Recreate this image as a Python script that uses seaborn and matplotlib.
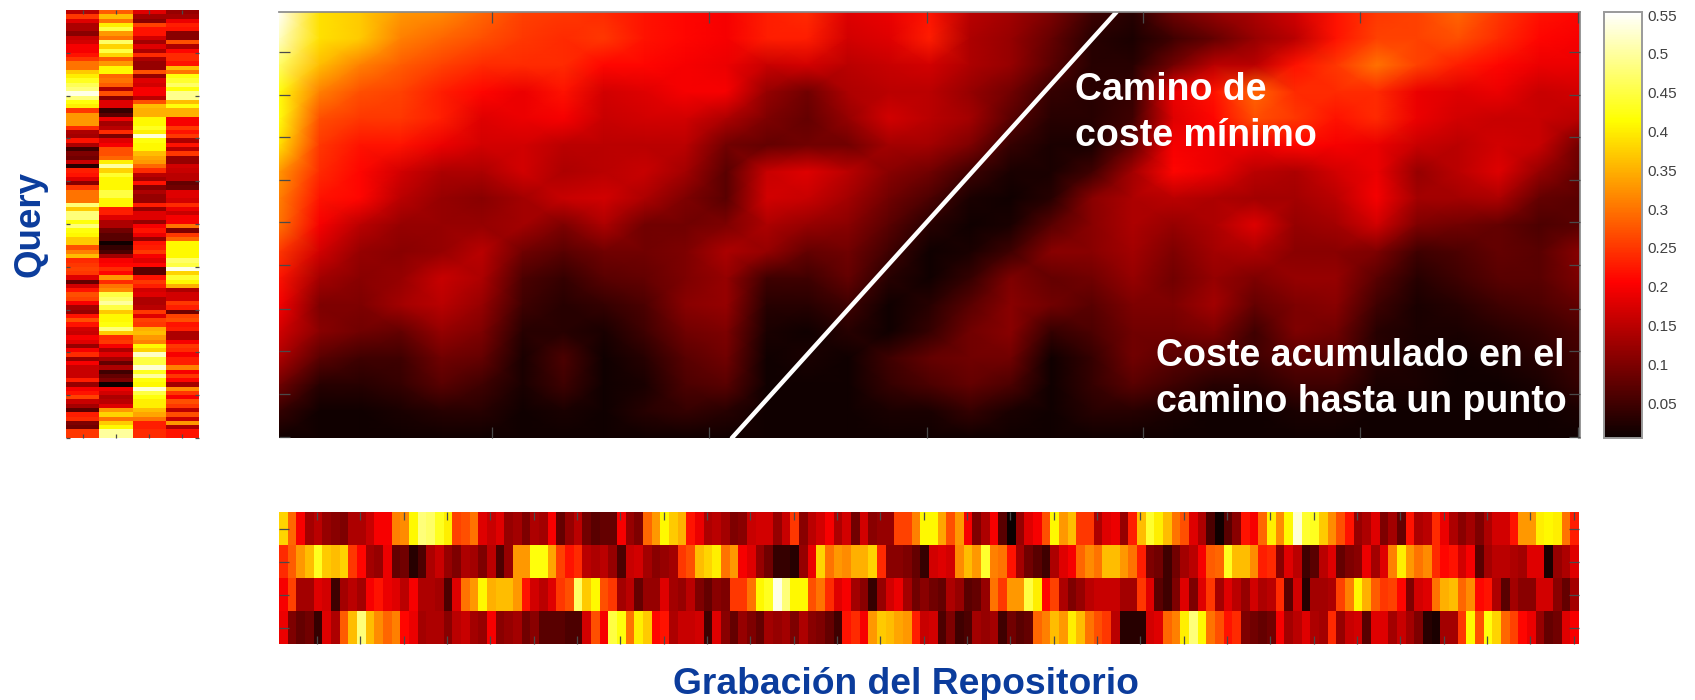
import matplotlib
matplotlib.use("Agg")
import matplotlib.pyplot as plt
import numpy as np
import seaborn as sns

# coste acumulado, una fila cada ~27 px del original (arriba -> abajo)
cost_rows = [
    [.55,.39,.37,.33,.32,.29,.26,.25,.24,.22,.21,.20,.23,.24,.18,.19,.22,.15,.13,.10,.05,.03,.09,.12,.14,.17,.22,.25,.26,.29,.25,.22,.21],
    [.52,.39,.37,.31,.29,.27,.25,.24,.25,.22,.21,.20,.23,.23,.17,.18,.23,.14,.12,.08,.03,.02,.05,.08,.12,.15,.22,.26,.26,.27,.24,.21,.20],
    [.47,.36,.31,.28,.26,.24,.24,.24,.21,.21,.20,.19,.16,.17,.15,.16,.17,.14,.12,.07,.03,.03,.09,.15,.15,.22,.25,.30,.26,.23,.21,.19,.19],
    [.42,.31,.27,.26,.23,.21,.19,.22,.17,.18,.20,.20,.12,.09,.14,.15,.15,.12,.09,.04,.03,.04,.19,.22,.29,.24,.24,.24,.19,.18,.19,.16,.17],
    [.42,.27,.25,.25,.23,.18,.19,.20,.16,.17,.17,.14,.10,.08,.12,.17,.15,.13,.07,.03,.03,.05,.18,.21,.27,.25,.22,.24,.19,.17,.16,.16,.15],
    [.39,.25,.22,.22,.19,.17,.17,.15,.15,.15,.15,.09,.08,.09,.09,.13,.13,.10,.04,.02,.02,.08,.20,.19,.19,.21,.20,.19,.16,.15,.17,.16,.09],
    [.33,.24,.21,.17,.14,.14,.17,.14,.15,.16,.13,.07,.16,.18,.15,.11,.09,.05,.02,.02,.05,.13,.21,.19,.15,.14,.17,.19,.12,.15,.18,.12,.08],
    [.31,.22,.21,.15,.12,.11,.13,.16,.17,.14,.10,.07,.17,.16,.13,.09,.06,.02,.01,.03,.11,.14,.15,.14,.13,.13,.15,.20,.13,.13,.14,.08,.07],
    [.30,.20,.15,.12,.12,.12,.13,.10,.14,.09,.09,.10,.14,.12,.11,.07,.03,.01,.02,.07,.11,.14,.12,.14,.18,.12,.13,.17,.10,.09,.08,.06,.07],
    [.25,.17,.12,.11,.12,.15,.09,.07,.09,.09,.10,.14,.12,.08,.09,.05,.01,.02,.05,.11,.11,.13,.10,.13,.14,.11,.11,.10,.05,.06,.08,.07,.11],
    [.22,.13,.11,.12,.16,.14,.06,.04,.07,.08,.10,.12,.05,.05,.08,.03,.01,.04,.10,.08,.09,.12,.09,.12,.10,.12,.12,.07,.03,.05,.07,.07,.10],
    [.20,.10,.10,.13,.15,.12,.05,.03,.04,.06,.11,.12,.03,.03,.05,.01,.03,.07,.11,.09,.07,.10,.10,.13,.08,.10,.11,.05,.02,.03,.05,.06,.08],
    [.17,.11,.09,.08,.12,.10,.03,.03,.02,.05,.09,.10,.02,.01,.03,.01,.04,.09,.11,.04,.06,.09,.09,.10,.05,.10,.09,.03,.02,.02,.03,.04,.06],
    [.14,.07,.05,.05,.09,.08,.02,.06,.01,.03,.07,.09,.01,.02,.01,.05,.08,.09,.09,.01,.04,.09,.07,.06,.05,.07,.07,.03,.02,.01,.02,.03,.05],
    [.09,.03,.03,.04,.07,.05,.02,.05,.01,.02,.06,.07,.01,.01,.01,.04,.06,.08,.06,.01,.04,.07,.05,.03,.03,.05,.05,.02,.02,.01,.01,.02,.04],
    [.04,.01,.01,.02,.03,.03,.01,.02,.01,.03,.04,.03,.01,.01,.01,.02,.02,.04,.02,.01,.03,.03,.02,.01,.01,.02,.02,.01,.01,.01,.01,.01,.02],
    [.01,.01,.01,.01,.01,.01,.01,.01,.01,.01,.01,.01,.01,.01,.01,.01,.01,.01,.01,.01,.01,.01,.01,.01,.01,.01,.01,.01,.01,.01,.01,.01,.01],
]

# query: 4 columnas de 100 filas
query_a = [.15,.25,.18,.14,.14,.11,.16,.17,.20,.20,.22,.25,.30,.30,.37,.40,.43,.46,.48,.54,.48,.42,.40,.25,.33,.33,.33,.24,.14,.13,.22,.14,.05,.10,.09,.16,.03,.23,.22,.18,.11,.25,.30,.30,.30,.48,.37,.48,.48,.42,
           .48,.42,.41,.37,.37,.27,.31,.36,.24,.25,.26,.25,.18,.08,.17,.22,.27,.26,.20,.13,.12,.22,.27,.22,.17,.16,.20,.18,.12,.20,.24,.12,.20,.16,.16,.16,.23,.12,.20,.22,.26,.16,.13,.07,.23,.24,.10,.09,.25,.25]
query_b = [.28,.36,.30,.40,.45,.33,.30,.47,.38,.45,.38,.28,.33,.41,.41,.29,.30,.28,.14,.27,.11,.18,.18,.04,.07,.19,.13,.15,.24,.10,.18,.20,.27,.27,.29,.40,.50,.38,.44,.41,.41,.41,.45,.45,.41,.41,.23,.23,.18,.14,
           .14,.09,.07,.07,.01,.04,.06,.13,.20,.21,.24,.21,.33,.24,.30,.32,.45,.47,.50,.45,.37,.41,.41,.42,.48,.37,.24,.25,.20,.14,.18,.13,.08,.14,.05,.08,.10,.005,.19,.17,.14,.15,.18,.33,.38,.30,.37,.41,.50,.50]
query_c = [.18,.13,.11,.26,.22,.22,.17,.13,.18,.14,.24,.14,.12,.12,.27,.12,.18,.17,.20,.20,.15,.27,.36,.35,.35,.41,.41,.43,.40,.53,.42,.41,.41,.36,.34,.33,.29,.24,.15,.13,.22,.11,.14,.12,.12,.23,.12,.18,.18,.12,
           .20,.22,.19,.12,.22,.23,.25,.20,.18,.21,.07,.07,.22,.25,.23,.17,.18,.14,.14,.15,.25,.18,.26,.25,.35,.36,.33,.31,.41,.38,.52,.45,.45,.53,.43,.50,.42,.41,.53,.45,.42,.40,.40,.36,.34,.30,.23,.23,.24,.24]
query_d = [.12,.13,.19,.23,.22,.11,.11,.27,.14,.21,.24,.24,.22,.36,.30,.42,.44,.47,.42,.49,.49,.36,.42,.35,.35,.20,.20,.25,.22,.25,.14,.22,.15,.25,.12,.12,.17,.16,.15,.15,.08,.09,.18,.18,.17,.24,.19,.16,.20,.20,
           .30,.10,.25,.29,.41,.41,.41,.41,.47,.45,.54,.38,.44,.41,.35,.14,.17,.17,.25,.23,.09,.26,.27,.22,.23,.14,.14,.20,.25,.24,.20,.23,.23,.31,.20,.25,.21,.13,.32,.25,.20,.27,.25,.15,.27,.16,.33,.14,.22,.22]

# grabacion del repositorio: 4 filas de 150 columnas
repo_1 = [.38,.29,.20,.13,.15,.12,.11,.10,.14,.14,.16,.20,.20,.31,.32,.41,.48,.47,.43,.40,.26,.27,.30,.18,.16,.18,.12,.13,.10,.14,.13,.20,.08,.12,.15,.09,.07,.08,.08,.20,.12,.10,.29,.33,.41,.37,.35,.22,.19,.14,.15,
          .13,.10,.11,.16,.17,.17,.12,.16,.25,.11,.15,.17,.20,.14,.17,.09,.17,.11,.12,.12,.26,.26,.31,.41,.41,.34,.27,.33,.20,.10,.14,.20,.07,.005,.12,.18,.20,.27,.41,.33,.36,.25,.25,.14,.18,.19,.12,.23,.36,.44,.40,
          .36,.30,.27,.18,.14,.06,.01,.07,.11,.22,.20,.29,.40,.32,.41,.53,.44,.43,.37,.32,.27,.22,.12,.14,.18,.10,.13,.08,.22,.14,.15,.24,.19,.14,.11,.13,.10,.14,.17,.17,.22,.33,.33,.40,.41,.40,.30,.23]
repo_2 = [.24,.28,.33,.36,.43,.37,.36,.38,.25,.21,.13,.12,.19,.08,.09,.03,.06,.14,.16,.12,.10,.14,.13,.10,.15,.06,.12,.33,.33,.42,.42,.34,.26,.22,.24,.15,.14,.15,.12,.06,.16,.17,.13,.11,.12,.13,.25,.27,.36,.38,.40,
          .30,.33,.20,.18,.12,.09,.04,.04,.03,.12,.19,.38,.30,.33,.32,.35,.35,.38,.24,.11,.11,.10,.08,.04,.17,.18,.17,.32,.36,.33,.44,.31,.30,.22,.13,.09,.07,.05,.14,.18,.20,.29,.32,.30,.36,.36,.33,.30,.23,.10,.09,
          .05,.09,.13,.15,.20,.28,.29,.43,.36,.36,.32,.23,.24,.11,.18,.15,.05,.07,.15,.18,.08,.10,.11,.19,.13,.18,.31,.40,.33,.30,.32,.24,.21,.22,.17,.20,.07,.13,.15,.15,.14,.13,.18,.18,.02,.12,.14,.18]
repo_3 = [.20,.26,.13,.13,.18,.17,.05,.13,.15,.13,.20,.22,.19,.18,.15,.20,.14,.14,.13,.06,.18,.30,.33,.41,.35,.36,.36,.33,.22,.17,.15,.18,.25,.27,.47,.37,.41,.27,.25,.13,.15,.08,.12,.12,.18,.13,.12,.15,.10,.08,.11,
          .10,.25,.25,.30,.41,.43,.54,.48,.41,.41,.27,.30,.24,.18,.20,.13,.11,.04,.12,.17,.19,.13,.09,.11,.09,.08,.14,.12,.07,.08,.12,.30,.25,.33,.33,.45,.40,.21,.26,.14,.10,.12,.15,.16,.16,.16,.13,.13,.25,.18,.07,
          .05,.10,.18,.10,.18,.25,.13,.18,.15,.12,.17,.14,.15,.24,.07,.17,.03,.13,.13,.14,.26,.31,.41,.35,.28,.25,.26,.21,.10,.17,.18,.30,.35,.36,.29,.32,.21,.22,.14,.07,.13,.11,.11,.17,.17,.11,.08,.13]
repo_4 = [.19,.10,.08,.09,.04,.18,.14,.28,.36,.48,.36,.32,.29,.31,.21,.19,.13,.14,.14,.11,.15,.16,.13,.12,.20,.11,.12,.13,.09,.11,.07,.07,.07,.06,.06,.17,.27,.20,.45,.42,.30,.40,.37,.21,.22,.14,.16,.16,.17,.05,.18,
          .11,.08,.12,.10,.08,.13,.12,.13,.10,.14,.11,.10,.08,.05,.22,.24,.20,.33,.37,.36,.34,.33,.23,.16,.17,.06,.10,.05,.06,.13,.12,.13,.05,.09,.07,.08,.29,.31,.36,.33,.40,.36,.30,.27,.25,.15,.03,.03,.03,.17,.18,
          .29,.31,.40,.48,.41,.30,.27,.22,.24,.10,.09,.08,.09,.20,.13,.15,.18,.14,.13,.24,.12,.16,.17,.07,.18,.18,.13,.16,.13,.10,.03,.02,.13,.13,.25,.41,.27,.42,.38,.29,.26,.21,.19,.12,.08,.09,.18,.20]

# camino de coste minimo, en celdas de la matriz de coste
path_col = [11.14, 20.6]
path_row = [16, 0]

cbar_ticks = [0.05, 0.1, 0.15, 0.2, 0.25, 0.3, 0.35, 0.4, 0.45, 0.5, 0.55]
cbar_labels = ["0.05", "0.1", "0.15", "0.2", "0.25", "0.3", "0.35", "0.4", "0.45", "0.5", "0.55"]

W, H = 1695, 700
VMIN, VMAX = 0.005, 0.554
TICK = "#4a4a4a"
BLUE = "#0b3c9c"

sns.set_theme(style="white")
plt.rcParams["font.family"] = ["Liberation Sans", "DejaVu Sans"]


def px_axes(fig, x0, y0, x1, y1):
    return fig.add_axes([x0 / W, 1 - y1 / H, (x1 - x0) / W, (y1 - y0) / H])


def clean_spines(ax):
    for s in ax.spines.values():
        s.set_visible(False)
    # las marcas van por encima del mapa
    ax.set_axisbelow(False)


fig = plt.figure(figsize=(W / 100, H / 100), dpi=100, facecolor="white")

# matriz principal + barra de color
ax_cost = px_axes(fig, 279, 12, 1580, 438)
ax_cbar = px_axes(fig, 1604, 12, 1642, 438)
cost = np.array(cost_rows)
sns.heatmap(cost, ax=ax_cost, cbar_ax=ax_cbar, cmap="hot", vmin=VMIN, vmax=VMAX,
            xticklabels=False, yticklabels=False, shading="gouraud",
            cbar_kws={"ticks": cbar_ticks})
ax_cost.set_xlim(0, cost.shape[1] - 1)
ax_cost.set_ylim(cost.shape[0] - 1, 0)
clean_spines(ax_cost)
ax_cost.spines["top"].set_visible(True)
ax_cost.spines["top"].set_color("#8a8a8a")
ax_cost.spines["right"].set_visible(True)
ax_cost.spines["right"].set_color("#8a8a8a")
ax_cost.set_xticks([5.24, 10.58, 15.95, 21.25, 26.6, 31.95])
ax_cost.set_yticks([1.5, 3.1, 4.7, 6.3, 7.9, 9.5, 11.15, 12.75, 14.35, 15.95])
ax_cost.tick_params(axis="x", which="both", direction="in", bottom=True, top=True,
                    length=8, width=0.9, color=TICK, labelbottom=False)
ax_cost.tick_params(axis="y", which="both", direction="in", left=True, right=True,
                    length=8, width=0.9, color=TICK, labelleft=False)
ax_cost.plot(path_col, path_row, color="white", lw=3.2, solid_capstyle="round", clip_on=True)

ax_cbar.set_yticks(cbar_ticks)
ax_cbar.set_yticklabels(cbar_labels)
ax_cbar.tick_params(axis="y", direction="in", length=2.5, width=0.8, color="#555555",
                    labelsize=11, labelcolor="#404040", pad=4, right=True)
for s in ax_cbar.spines.values():
    s.set_visible(True)
    s.set_color("#9a9a9a")
    s.set_linewidth(1.2)

# query
ax_query = px_axes(fig, 66, 10, 199, 438)
query = np.array([query_a, query_b, query_c, query_d]).T
sns.heatmap(query, ax=ax_query, cbar=False, cmap="hot", vmin=VMIN, vmax=VMAX,
            xticklabels=False, yticklabels=False)
clean_spines(ax_query)
ax_query.set_xticks(np.arange(4) + 0.5)
ax_query.set_yticks(np.arange(10, 101, 10))
ax_query.tick_params(axis="x", direction="in", bottom=True, top=True, length=3,
                     width=0.9, color=TICK, labelbottom=False)
ax_query.tick_params(axis="y", direction="in", left=True, right=True, length=3,
                     width=0.9, color=TICK, labelleft=False)

# repositorio
ax_repo = px_axes(fig, 279, 512, 1579, 644)
repo = np.array([repo_1, repo_2, repo_3, repo_4])
sns.heatmap(repo, ax=ax_repo, cbar=False, cmap="hot", vmin=VMIN, vmax=VMAX,
            xticklabels=False, yticklabels=False)
clean_spines(ax_repo)
ax_repo.set_xticks(np.arange(4.4, 150, 5))
ax_repo.set_yticks(np.arange(4) + 0.5)
ax_repo.tick_params(axis="x", direction="in", bottom=True, top=True, length=6,
                    width=0.9, color=TICK, labelbottom=False)
ax_repo.tick_params(axis="y", direction="in", left=True, right=True, length=7,
                    width=0.9, color=TICK, labelleft=False)

# textos
fig.text(1075 / W, 1 - 90 / H, "Camino de", color="white", fontweight="bold", fontsize=27, va="center")
fig.text(1075 / W, 1 - 136 / H, "coste mínimo", color="white", fontweight="bold", fontsize=27, va="center")
fig.text(1156 / W, 1 - 356 / H, "Coste acumulado en el", color="white", fontweight="bold", fontsize=27, va="center")
fig.text(1156 / W, 1 - 402 / H, "camino hasta un punto", color="white", fontweight="bold", fontsize=27, va="center")
fig.text(30 / W, 1 - 224 / H, "Query", color=BLUE, fontweight="bold", fontsize=26.5, rotation=90,
         ha="center", va="center")
fig.text(906 / W, 1 - 684 / H, "Grabación del Repositorio", color=BLUE, fontweight="bold", fontsize=26.8,
         ha="center", va="center")

fig.savefig("out.png", dpi=100)
plt.close(fig)
